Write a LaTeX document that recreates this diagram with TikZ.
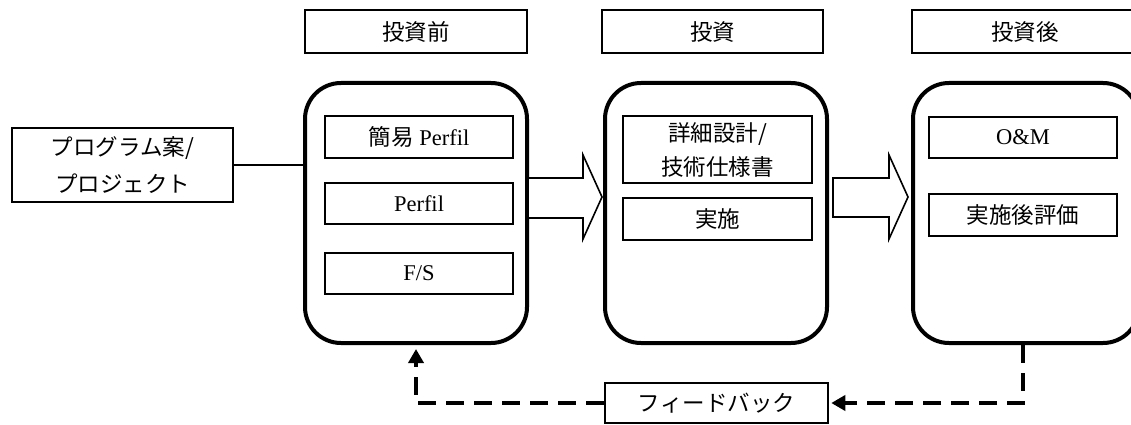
\documentclass[tikz,border=0pt]{standalone}
\usepackage{fontspec}
\setmainfont{Liberation Serif}
\newfontfamily\cjk{Noto Sans CJK JP}
\usetikzlibrary{arrows.meta,calc}
\tikzset{
  txt/.style={font=\fontsize{22.5}{34}\selectfont},
  hdr/.style={draw, line width=1.2pt, inner sep=0pt, txt},
  item/.style={draw, line width=1.2pt, inner sep=0pt, align=center, txt},
  phase/.style={draw, line width=4pt, rounded corners=36pt, inner sep=0pt},
  blk/.style={draw, line width=1.6pt, fill=white, line join=miter},
  fbline/.style={line width=3.5pt, dash pattern=on 18pt off 10pt},
  tip/.style={-{Triangle[length=14pt,width=15pt]}}
}
\begin{document}
\begin{tikzpicture}[x=1pt,y=-1pt]
\useasboundingbox (0,0) rectangle (1131,425);
\clip (0,0) rectangle (1131,425);
% headers
\node[hdr, minimum width=222pt, minimum height=43pt] (h1) at (416,31.5) {\cjk 投資前};
\node[hdr, minimum width=221pt, minimum height=43pt] (h2) at (712.5,31.5) {\cjk 投資};
\node[hdr, minimum width=226pt, minimum height=43pt] (h3) at (1025,31.5) {\cjk 投資後};
% phases
\node[phase, minimum width=222pt, minimum height=260pt] (p1) at (416,213) {};
\node[phase, minimum width=222pt, minimum height=260pt] (p2) at (716,213) {};
\node[phase, minimum width=226pt, minimum height=260pt] (p3) at (1026,213) {};
% items
\node[item, minimum width=188pt, minimum height=42pt] (i1) at (419,137) {{\cjk 簡易} Perfil};
\node[item, minimum width=188pt, minimum height=41pt] (i2) at (419,203.5) {Perfil};
\node[item, minimum width=188pt, minimum height=41pt] (i3) at (419,273.5) {F/S};
\node[item, minimum width=189pt, minimum height=67pt] (j1) at (717.5,149.5) {\cjk 詳細設計/\\\cjk 技術仕様書};
\node[item, minimum width=189pt, minimum height=42pt] (j2) at (717.5,219) {\cjk 実施};
\node[item, minimum width=188pt, minimum height=41pt] (k1) at (1023,137.5) {O\&M};
\node[item, minimum width=188pt, minimum height=42pt] (k2) at (1023,215) {\cjk 実施後評価};
% program box
\node[item, minimum width=221pt, minimum height=74pt, font=\fontsize{22.5}{37}\selectfont] (prog) at (122.5,165) {\cjk プログラム案/\\\cjk プロジェクト};
\draw[line width=1.6pt] (prog.east) -- (prog.east -| p1.west);
% block arrows
\draw[blk] (528,178) -- (583,178) -- (583,155) -- (602,197) -- (583,239) -- (583,218) -- (528,218) -- cycle;
\draw[blk] (833,178) -- (889,178) -- (889,155) -- (908,197) -- (889,239) -- (889,217) -- (833,217) -- cycle;
% feedback
\node[item, line width=2.5pt, minimum width=223pt, minimum height=40pt] (fb) at (716.5,403) {\cjk フィードバック};
\draw[fbline, tip, shorten >=2pt] (p3.south -| k1.south) |- (fb.east);
\draw[fbline, tip, shorten >=4pt] (fb.west) -| (p1.south);
\end{tikzpicture}
\end{document}
